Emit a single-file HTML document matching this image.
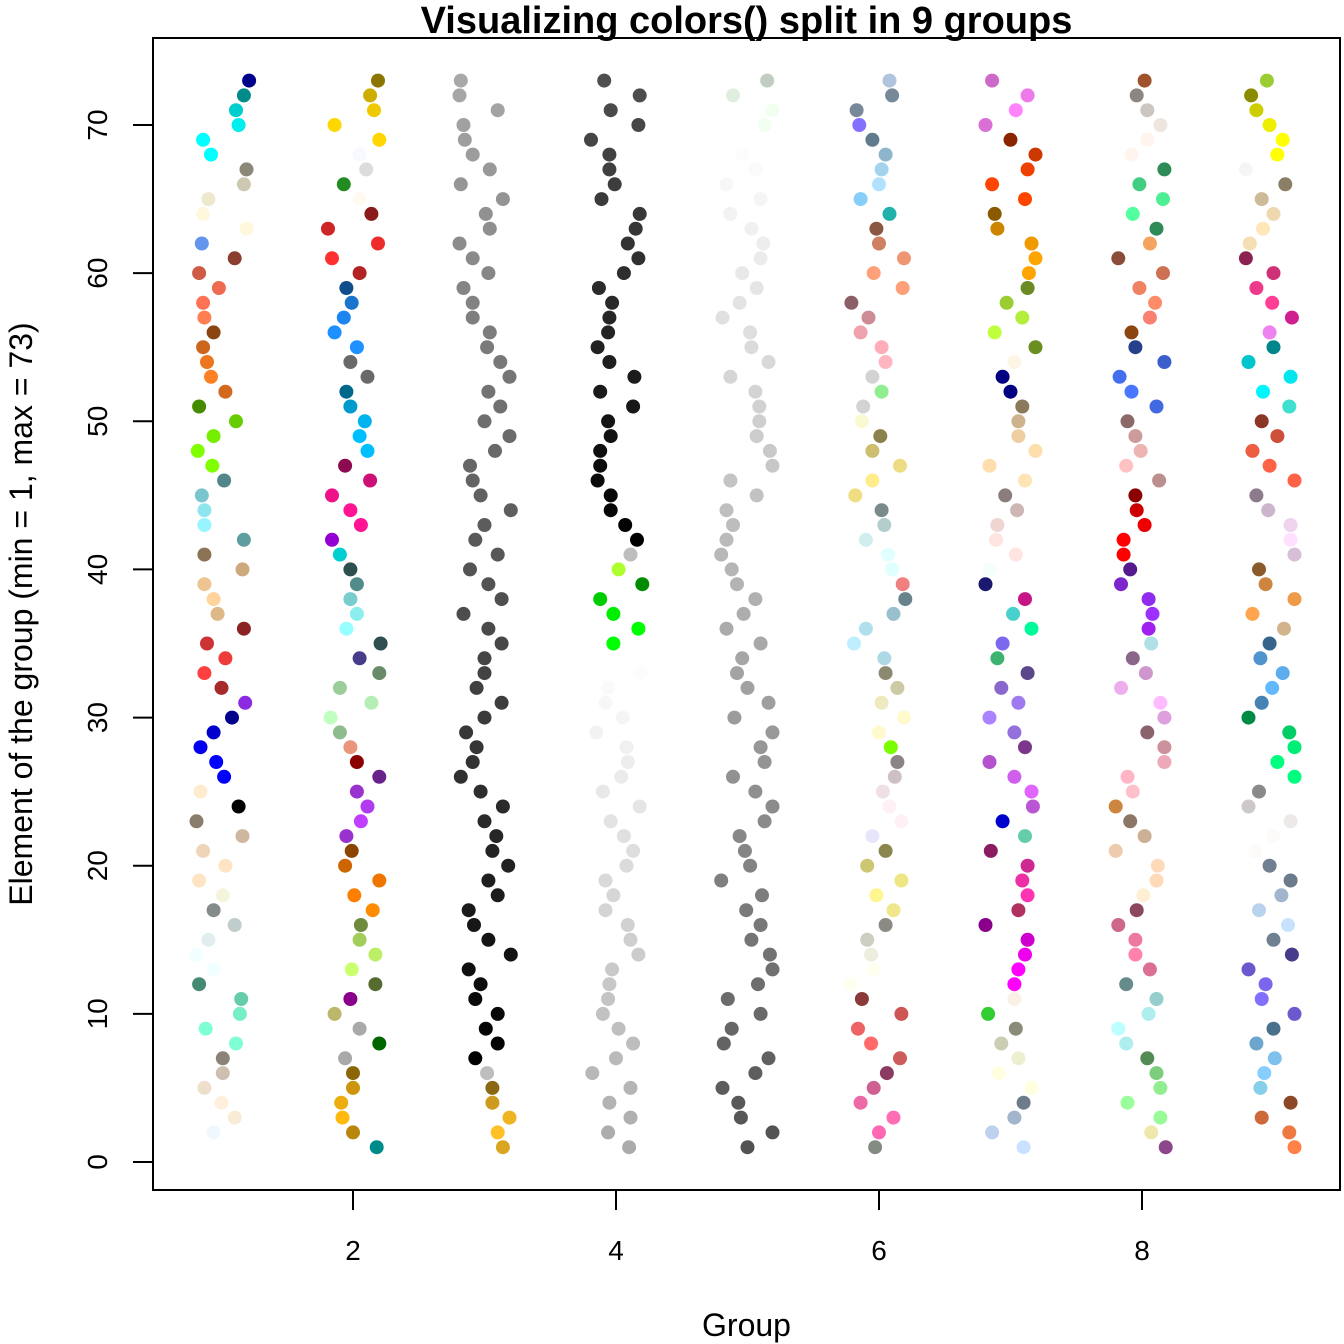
<!DOCTYPE html>
<html><head><meta charset="utf-8"><style>
html,body{margin:0;padding:0;background:#fff;}
svg{display:block;font-family:"Liberation Sans",Arial,sans-serif;}
</style></head><body>
<svg id="chart" width="1344" height="1344" viewBox="0 0 1344 1344" xmlns="http://www.w3.org/2000/svg">
<text x="746.5" y="33" text-anchor="middle" font-size="38" font-weight="bold">Visualizing colors() split in 9 groups</text>
<text x="746.5" y="1336" text-anchor="middle" font-size="32">Group</text>
<text transform="translate(32,614) rotate(-90)" text-anchor="middle" font-size="32">Element of the group (min = 1, max = 73)</text>
<g id="points"></g>
<g id="axes"></g>
<rect x="153" y="38" width="1187" height="1152" fill="none" stroke="#000" stroke-width="2"/>
</svg>
<script>
const groups = [1,2,3,4,5,6,7,8,9];
const xTicks = [2,4,6,8];
const yTicks = [0,10,20,30,40,50,60,70];
const jit1 = [-0.01,-0.06,0.10,0.00,-0.13,0.01,0.01,0.11,-0.12,0.14,0.15,-0.17,-0.06,-0.19,-0.10,0.10,-0.06,0.01,-0.17,0.03,-0.14,0.16,-0.19,0.13,-0.16,0.02,-0.04,-0.16,-0.06,0.08,0.18,0.00,-0.13,0.03,-0.11,0.17,-0.03,-0.06,-0.13,0.16,-0.13,0.17,-0.13,-0.13,-0.15,0.02,-0.07,-0.18,-0.06,0.11,-0.17,0.03,-0.08,-0.11,-0.14,-0.06,-0.13,-0.14,-0.02,-0.17,0.10,-0.15,0.19,-0.14,-0.10,0.17,0.19,-0.08,-0.14,0.13,0.11,0.17,0.21];
const jit2 = [0.18,0,-0.08,-0.09,0,0,-0.06,0.20,0.05,-0.14,-0.02,0.17,-0.01,0.17,0.05,0.06,0.15,0.01,0.20,-0.06,-0.01,-0.05,0.06,0.11,0.03,0.20,0.03,-0.02,-0.10,-0.17,0.14,-0.10,0.20,0.05,0.21,-0.05,0.03,-0.02,0.03,-0.02,-0.10,-0.16,0.06,-0.02,-0.16,0.13,-0.06,0.11,0.05,0.09,-0.02,-0.05,0.11,-0.02,0.03,-0.14,-0.07,-0.01,-0.05,0.05,-0.16,0.19,-0.19,0.14,0.05,-0.07,0.10,0.05,0.20,-0.14,0.16,0.13,0.19];
const jit3 = [0.14,0.10,0.19,0.06,0.06,0.02,-0.07,0.10,0.01,0.10,-0.07,-0.03,-0.12,0.20,0.03,-0.08,-0.12,0.10,0.03,0.18,0.06,0.09,0.00,0.14,-0.03,-0.18,-0.09,-0.06,-0.14,0.00,0.13,-0.06,0.00,0.00,0.13,0.03,-0.16,0.13,0.03,-0.11,0.10,-0.07,0.00,0.20,-0.03,-0.09,-0.11,0.08,0.19,0.00,0.12,0.03,0.19,0.12,0.02,0.04,-0.09,-0.09,-0.16,0.03,-0.09,-0.19,0.04,0.01,0.14,-0.18,0.04,-0.09,-0.15,-0.16,0.10,-0.19,-0.18];
const jit4 = [0.10,-0.06,0.11,-0.05,0.11,-0.18,0,0.13,0.02,-0.10,-0.06,-0.05,-0.03,0.17,0.11,0.09,-0.08,-0.02,-0.08,0.08,0.13,0.06,-0.04,0.18,-0.10,0.04,0.09,0.08,-0.15,0.05,-0.08,-0.06,0.19,0.03,-0.02,0.17,-0.02,-0.12,0.20,0.02,0.11,0.16,0.07,-0.04,-0.04,-0.14,-0.12,-0.12,-0.04,-0.06,0.13,-0.12,0.14,-0.05,-0.14,-0.06,-0.05,-0.03,-0.13,0.06,0.17,0.09,0.15,0.18,-0.11,-0.01,-0.05,-0.05,-0.19,0.17,-0.04,0.18,-0.09];
const jit5 = [0.00,0.19,-0.05,-0.07,-0.19,0.06,0.16,-0.18,-0.12,0.10,-0.15,0.08,0.19,0.17,0.03,0.10,-0.01,0.11,-0.20,0.02,-0.02,-0.06,0.13,0.19,0.06,-0.11,0.13,0.10,0.19,-0.10,0.16,0.00,-0.08,-0.04,0.10,-0.16,-0.03,0.06,-0.08,-0.12,-0.20,-0.16,-0.11,-0.16,0.07,-0.13,0.19,0.17,0.07,0.09,0.09,0.06,-0.13,0.16,0.03,0.02,-0.19,-0.06,0.07,-0.04,0.10,0.12,0.03,-0.13,0.10,-0.16,0.06,-0.04,-0.06,0.13,0.19,-0.11,0.15];
const jit6 = [-0.03,0,0.11,-0.14,-0.04,0.06,0.16,-0.06,-0.16,0.17,-0.13,-0.21,-0.04,-0.06,-0.09,0.05,0.11,-0.02,0.17,-0.09,0.05,-0.05,0.17,0.08,0.03,0.12,0.14,0.09,0,0.19,0.02,0.14,0.05,0.04,-0.19,-0.10,0.11,0.20,0.18,0.10,0.07,-0.10,0.04,0.02,-0.18,-0.05,0.16,-0.05,0.01,-0.13,-0.12,0.02,-0.05,0.05,0.02,-0.14,-0.08,-0.21,0.18,-0.04,0.19,0,-0.02,0.08,-0.14,0,0.02,0.05,-0.05,-0.15,-0.17,0.10,0.08];
const jit7 = [0.10,-0.14,0.03,0.10,0.16,-0.09,0.06,-0.07,0.04,-0.17,0.03,0.03,0.06,0.11,0.13,-0.19,0.06,0.13,0.09,0.13,-0.15,0.11,-0.06,0.17,0.16,0.03,-0.16,0.11,0.03,-0.16,0.06,-0.07,0.13,-0.10,-0.06,0.16,0.02,0.11,-0.19,-0.16,0.04,-0.11,-0.10,0.05,-0.04,0.11,-0.16,0.19,0.06,0.06,0.09,0.00,-0.06,0.03,0.19,-0.12,0.09,-0.03,0.13,0.14,0.19,0.16,-0.10,-0.12,0.11,-0.14,0.13,0.19,0.00,-0.19,0.04,0.13,-0.14];
const jit8 = [0.18,0.07,0.14,-0.11,0.14,0.11,0.04,-0.12,-0.18,0.05,0.11,-0.12,0.06,-0.05,-0.05,-0.18,-0.04,0.01,0.11,0.12,-0.20,0.02,-0.09,-0.20,-0.07,-0.11,0.17,0.17,0.04,0.17,0.14,-0.16,0.03,-0.07,0.07,0.05,0.08,0.05,-0.16,-0.09,-0.14,-0.14,0.02,-0.04,-0.05,0.13,-0.12,-0.01,-0.05,-0.11,0.11,-0.08,-0.17,0.17,-0.05,-0.08,0.06,0.10,-0.02,0.16,-0.18,0.06,0.11,-0.07,0.16,-0.02,0.17,-0.08,0.04,0.14,0.04,-0.04,0.02];
const jit9 = [0.16,0.12,-0.09,0.13,-0.10,-0.07,0.01,-0.13,0.00,0.16,-0.09,-0.06,-0.19,0.14,0.00,0.11,-0.11,0.06,0.13,-0.03,-0.14,0.00,0.13,-0.19,-0.11,0.16,0.03,0.16,0.12,-0.19,-0.09,-0.01,0.07,-0.10,-0.03,0.08,-0.16,0.16,-0.06,-0.11,0.16,0.13,0.13,-0.04,-0.13,0.16,-0.03,-0.16,0.03,-0.09,0.12,-0.08,0.13,-0.19,0.00,-0.03,0.14,-0.01,-0.13,0.00,-0.21,-0.18,-0.08,0.00,-0.09,0.09,-0.21,0.03,0.07,-0.03,-0.13,-0.17,-0.05];
const jitters = [jit1,jit2,jit3,jit4,jit5,jit6,jit7,jit8,jit9];

const col1 = ["#FFFFFF","#F0F8FF","#FAEBD7","#FFEFDB","#EEDFCC","#CDC0B0","#8B8378","#7FFFD4","#7FFFD4","#76EEC6","#66CDAA","#458B74","#F0FFFF","#F0FFFF","#E0EEEE","#C1CDCD","#838B8B","#F5F5DC","#FFE4C4","#FFE4C4","#EED5B7","#CDB79E","#8B7D6B","#000000","#FFEBCD","#0000FF","#0000FF","#0000EE","#0000CD","#00008B","#8A2BE2","#A52A2A","#FF4040","#EE3B3B","#CD3333","#8B2323","#DEB887","#FFD39B","#EEC591","#CDAA7D","#8B7355","#5F9EA0","#98F5FF","#8EE5EE","#7AC5CD","#53868B","#7FFF00","#7FFF00","#76EE00","#66CD00","#458B00","#D2691E","#FF7F24","#EE7621","#CD661D","#8B4513","#FF7F50","#FF7256","#EE6A50","#CD5B45","#8B3E2F","#6495ED","#FFF8DC","#FFF8DC","#EEE8CD","#CDC8B1","#8B8878","#00FFFF","#00FFFF","#00EEEE","#00CDCD","#008B8B","#00008B"];
const col2 = ["#008B8B","#B8860B","#FFB90F","#EEAD0E","#CD950C","#8B6508","#A9A9A9","#006400","#A9A9A9","#BDB76B","#8B008B","#556B2F","#CAFF70","#BCEE68","#A2CD5A","#6E8B3D","#FF8C00","#FF7F00","#EE7600","#CD6600","#8B4500","#9932CC","#BF3EFF","#B23AEE","#9A32CD","#68228B","#8B0000","#E9967A","#8FBC8F","#C1FFC1","#B4EEB4","#9BCD9B","#698B69","#483D8B","#2F4F4F","#97FFFF","#8DEEEE","#79CDCD","#528B8B","#2F4F4F","#00CED1","#9400D3","#FF1493","#FF1493","#EE1289","#CD1076","#8B0A50","#00BFFF","#00BFFF","#00B2EE","#009ACD","#00688B","#696969","#696969","#1E90FF","#1E90FF","#1C86EE","#1874CD","#104E8B","#B22222","#FF3030","#EE2C2C","#CD2626","#8B1A1A","#FFFAF0","#228B22","#DCDCDC","#F8F8FF","#FFD700","#FFD700","#EEC900","#CDAD00","#8B7500"];
function gr(n){const v=Math.round(n*2.55).toString(16).padStart(2,'0');return '#'+v+v+v;}
const col3 = ["#DAA520","#FFC125","#EEB422","#CD9B1D","#8B6914","#BEBEBE"];
for(let n=0;n<=66;n++) col3.push(gr(n));
const col4 = [];
for(let n=67;n<=100;n++) col4.push(gr(n));
col4.push("#00FF00","#00FF00","#00EE00","#00CD00","#008B00","#ADFF2F","#BEBEBE");
for(let n=0;n<=31;n++) col4.push(gr(n));
const col5 = [];
for(let n=32;n<=100;n++) col5.push(gr(n));
col5.push("#F0FFF0","#F0FFF0","#E0EEE0","#C1CDC1");
const col6 = ["#838B83","#FF69B4","#FF6EB4","#EE6AA7","#CD6090","#8B3A62","#CD5C5C","#FF6A6A","#EE6363","#CD5555","#8B3A3A","#FFFFF0","#FFFFF0","#EEEEE0","#CDCDC1","#8B8B83","#F0E68C","#FFF68F","#EEE685","#CDC673","#8B864E","#E6E6FA","#FFF0F5","#FFF0F5","#EEE0E5","#CDC1C5","#8B8386","#7CFC00","#FFFACD","#FFFACD","#EEE9BF","#CDC9A5","#8B8970","#ADD8E6","#BFEFFF","#B2DFEE","#9AC0CD","#68838B","#F08080","#E0FFFF","#E0FFFF","#D1EEEE","#B4CDCD","#7A8B8B","#EEDD82","#FFEC8B","#EEDC82","#CDBE70","#8B814C","#FAFAD2","#D3D3D3","#90EE90","#D3D3D3","#FFB6C1","#FFAEB9","#EEA2AD","#CD8C95","#8B5F65","#FFA07A","#FFA07A","#EE9572","#CD8162","#8B5742","#20B2AA","#87CEFA","#B0E2FF","#A4D3EE","#8DB6CD","#607B8B","#8470FF","#778899","#778899","#B0C4DE"];
const col7 = ["#CAE1FF","#BCD2EE","#A2B5CD","#6E7B8B","#FFFFE0","#FFFFE0","#EEEED1","#CDCDB4","#8B8B7A","#32CD32","#FAF0E6","#FF00FF","#FF00FF","#EE00EE","#CD00CD","#8B008B","#B03060","#FF34B3","#EE30A7","#CD2990","#8B1C62","#66CDAA","#0000CD","#BA55D3","#E066FF","#D15FEE","#B452CD","#7A378B","#9370DB","#AB82FF","#9F79EE","#8968CD","#5D478B","#3CB371","#7B68EE","#00FA9A","#48D1CC","#C71585","#191970","#F5FFFA","#FFE4E1","#FFE4E1","#EED5D2","#CDB7B5","#8B7D7B","#FFE4B5","#FFDEAD","#FFDEAD","#EECFA1","#CDB38B","#8B795E","#000080","#000080","#FDF5E6","#6B8E23","#C0FF3E","#B3EE3A","#9ACD32","#698B22","#FFA500","#FFA500","#EE9A00","#CD8500","#8B5A00","#FF4500","#FF4500","#EE4000","#CD3700","#8B2500","#DA70D6","#FF83FA","#EE7AE9","#CD69C9"];
const col8 = ["#8B4789","#EEE8AA","#98FB98","#9AFF9A","#90EE90","#7CCD7C","#548B54","#AFEEEE","#BBFFFF","#AEEEEE","#96CDCD","#668B8B","#DB7093","#FF82AB","#EE799F","#CD6889","#8B475D","#FFEFD5","#FFDAB9","#FFDAB9","#EECBAD","#CDAF95","#8B7765","#CD853F","#FFC0CB","#FFB5C5","#EEA9B8","#CD919E","#8B636C","#DDA0DD","#FFBBFF","#EEAEEE","#CD96CD","#8B668B","#B0E0E6","#A020F0","#9B30FF","#912CEE","#7D26CD","#551A8B","#FF0000","#FF0000","#EE0000","#CD0000","#8B0000","#BC8F8F","#FFC1C1","#EEB4B4","#CD9B9B","#8B6969","#4169E1","#4876FF","#436EEE","#3A5FCD","#27408B","#8B4513","#FA8072","#FF8C69","#EE8262","#CD7054","#8B4C39","#F4A460","#2E8B57","#54FF9F","#4EEE94","#43CD80","#2E8B57","#FFF5EE","#FFF5EE","#EEE5DE","#CDC5BF","#8B8682","#A0522D"];
const col9 = ["#FF8247","#EE7942","#CD6839","#8B4726","#87CEEB","#87CEFF","#7EC0EE","#6CA6CD","#4A708B","#6A5ACD","#836FFF","#7A67EE","#6959CD","#473C8B","#708090","#C6E2FF","#B9D3EE","#9FB6CD","#6C7B8B","#708090","#FFFAFA","#FFFAFA","#EEE9E9","#CDC9C9","#8B8989","#00FF7F","#00FF7F","#00EE76","#00CD66","#008B45","#4682B4","#63B8FF","#5CACEE","#4F94CD","#36648B","#D2B48C","#FFA54F","#EE9A49","#CD853F","#8B5A2B","#D8BFD8","#FFE1FF","#EED2EE","#CDB5CD","#8B7B8B","#FF6347","#FF6347","#EE5C42","#CD4F39","#8B3626","#40E0D0","#00F5FF","#00E5EE","#00C5CD","#00868B","#EE82EE","#D02090","#FF3E96","#EE3A8C","#CD3278","#8B2252","#F5DEB3","#FFE7BA","#EED8AE","#CDBA96","#8B7E66","#F5F5F5","#FFFF00","#FFFF00","#EEEE00","#CDCD00","#8B8B00","#9ACD32"];
const colorsByGroup = [col1,col2,col3,col4,col5,col6,col7,col8,col9];

const NS = "http://www.w3.org/2000/svg";
function sx(v){ return 90 + v*131.5; }
function sy(v){ return 1162 - v*(1037/70); }

const pts = document.getElementById('points');
groups.forEach((g, gi) => {
  const jit = jitters[gi], cols = colorsByGroup[gi];
  for (let i = 0; i < jit.length; i++) {
    const c = document.createElementNS(NS, 'circle');
    c.setAttribute('cx', sx(g + jit[i]).toFixed(1));
    c.setAttribute('cy', sy(i + 1).toFixed(1));
    c.setAttribute('r', 7);
    c.setAttribute('fill', cols[i]);
    
    
    pts.appendChild(c);
  }
});

const axes = document.getElementById('axes');
xTicks.forEach(t => {
  const l = document.createElementNS(NS, 'line');
  l.setAttribute('x1', sx(t)); l.setAttribute('x2', sx(t));
  l.setAttribute('y1', 1190); l.setAttribute('y2', 1210);
  l.setAttribute('stroke', '#000'); l.setAttribute('stroke-width', 2);
  
  
  axes.appendChild(l);
  const tx = document.createElementNS(NS, 'text');
  tx.setAttribute('x', sx(t)); tx.setAttribute('y', 1260);
  tx.setAttribute('text-anchor', 'middle'); tx.setAttribute('font-size', 28);
  tx.textContent = t;
  
  
  axes.appendChild(tx);
});
yTicks.forEach(t => {
  const l = document.createElementNS(NS, 'line');
  l.setAttribute('x1', 133); l.setAttribute('x2', 153);
  l.setAttribute('y1', sy(t)); l.setAttribute('y2', sy(t));
  l.setAttribute('stroke', '#000'); l.setAttribute('stroke-width', 2);
  
  
  axes.appendChild(l);
  const tx = document.createElementNS(NS, 'text');
  tx.setAttribute('transform', 'translate(107,' + sy(t) + ') rotate(-90)');
  tx.setAttribute('text-anchor', 'middle'); tx.setAttribute('font-size', 28);
  tx.textContent = t;
  
  
  axes.appendChild(tx);
});
</script>
</body></html>
